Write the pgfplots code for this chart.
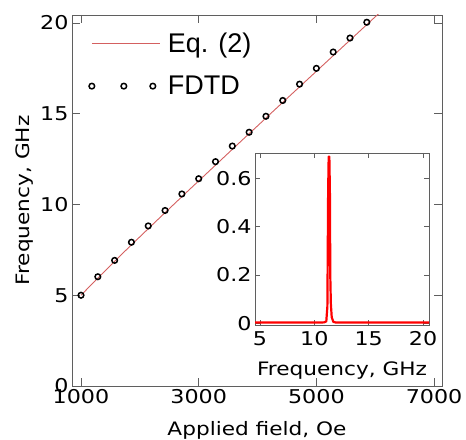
\documentclass[border=0pt]{standalone}
\usepackage{pgfplots}
\pgfplotsset{compat=1.18}
\usepackage{fontspec}
\setmainfont{DejaVu Sans}[FakeStretch=1.17]
\newfontfamily\legfam{Liberation Sans}
\definecolor{eqred}{RGB}{212,96,96}
\definecolor{framegray}{RGB}{95,95,95}
\newcommand{\bigf}{\fontsize{18.5bp}{22bp}\selectfont}
\newcommand{\tickf}{\fontsize{19bp}{22bp}\selectfont}
\newcommand{\legf}{\legfam\fontsize{27bp}{31bp}\selectfont}
\newcommand{\tl}[1]{\textup{\tickf #1}}
\begin{document}
\begin{tikzpicture}[font=\bigf]
\useasboundingbox (0,0) rectangle (466bp,440bp);
\begin{axis}[
  at={(72bp,54bp)}, anchor=south west,
  scale only axis, width=370bp, height=371bp,
  xmin=847, xmax=7135, ymin=0, ymax=20.44,
  xtick={1000,3000,5000,7000}, ytick={0,5,10,15,20},
  xticklabels={\tl{1000},\tl{3000},\tl{5000},\tl{7000}},
  yticklabels={\tl{0},\tl{5},\tl{10},\tl{15},\tl{20}},
  tick align=inside, major tick length=8bp,
  axis line style={framegray, line width=0.8bp},
  tick style={framegray, line width=0.7bp},
  tick label style={font=\tickf},
  xlabel={Applied field, Oe}, ylabel={Frequency, GHz},
  xlabel style={at={(axis description cs:0.5,-0.1186)}, anchor=center},
  ylabel style={at={(axis description cs:-0.127,0.5)}, anchor=center},
  legend style={draw=none, fill=none, at={(axis description cs:0.0435,0.96)}, anchor=north west,
    inner sep=0pt, row sep=16bp, legend cell align=left, font=\legf,
    nodes={inner sep=3bp}},
]
\addlegendimage{legend image code/.code={\path[draw=none] (-3bp,0bp) -- (73bp,0bp); \draw[color=eqred, line width=1.1bp] (0bp,0bp) -- (68bp,0bp);}}
\addlegendentry{Eq. (2)}
\addlegendimage{legend image code/.code={\path[draw=none] (-3bp,0bp) -- (73bp,0bp);
    \draw[black, line width=1.5bp] (0bp,0bp) circle[radius=2.8bp];
    \draw[black, line width=1.5bp] (32bp,0bp) circle[radius=2.8bp];
    \draw[black, line width=1.5bp] (61bp,0bp) circle[radius=2.8bp];}}
\addlegendentry{FDTD}
\addplot[eqred, line width=0.9bp, forget plot]
  coordinates {
  (1000,5.00) (1250,5.83) (1500,6.64) (1750,7.44) (2000,8.22) (2250,9.00)
  (2500,9.77) (2750,10.54) (3000,11.30) (3250,12.06) (3500,12.82) (3750,13.58)
  (4000,14.33) (4250,15.09) (4500,15.84) (4750,16.59) (5000,17.34) (5250,18.09)
  (5500,18.84) (5750,19.59) (6000,20.34) (6100,20.63)
  };
\addplot[only marks, mark=o, mark size=2.8bp, mark options={black, line width=1.5bp}, forget plot]
  coordinates {
  (1000.0,5.00) (1285.7,6.02) (1571.4,6.92) (1857.1,7.92) (2142.9,8.82) (2428.6,9.67)
  (2714.3,10.58) (3000.0,11.42) (3285.7,12.36) (3571.4,13.22) (3857.1,13.98) (4142.9,14.86)
  (4428.6,15.73) (4714.3,16.63) (5000.0,17.50) (5285.7,18.40) (5571.4,19.17) (5857.1,20.04)
  };
\end{axis}
\begin{axis}[
  at={(255bp,115bp)}, anchor=south west,
  scale only axis, width=174bp, height=172bp,
  xmin=4.54, xmax=20.55, ymin=-0.007, ymax=0.705,
  xtick={5,10,15,20}, ytick={0,0.2,0.4,0.6},
  xticklabels={\tl{5},\tl{10},\tl{15},\tl{20}}, yticklabels={\tl{0},\tl{0.2},\tl{0.4},\tl{0.6}},
  tick align=inside, major tick length=5bp,
  axis background/.style={fill=white},
  axis line style={framegray, line width=0.8bp},
  tick style={framegray, line width=0.7bp},
  tick label style={font=\tickf},
  xticklabel style={yshift=-3bp},
  xlabel={Frequency, GHz},
  xlabel style={at={(axis description cs:0.5,-0.262)}, anchor=center},
]
\addplot[red, line width=2.2bp, line join=round] coordinates {
  (4.54,0.003) (10.5,0.003) (10.9,0.004) (11.1,0.008) (11.2,0.07) (11.27,0.55)
  (11.32,0.69) (11.38,0.69) (11.43,0.55) (11.47,0.19) (11.52,0.08) (11.6,0.025)
  (11.75,0.006) (12.0,0.003) (20.55,0.003)
  };
\end{axis}
\end{tikzpicture}
\end{document}
